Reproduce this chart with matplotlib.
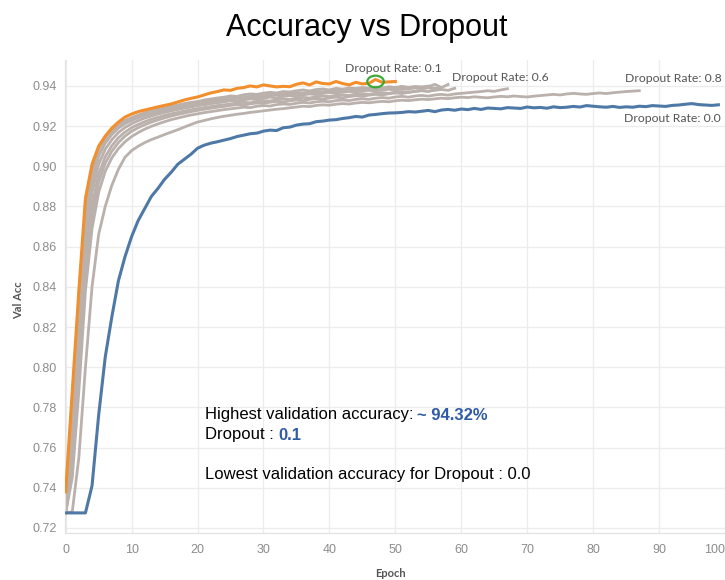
import matplotlib
matplotlib.use("Agg")
import matplotlib.pyplot as plt
from matplotlib.patches import Ellipse
import numpy as np

# ---------------- data ----------------
title = "Accuracy vs Dropout"
x_label = "Epoch"
y_label = "Val Acc"
x_ticks = [0, 10, 20, 30, 40, 50, 60, 70, 80, 90, 100]
y_ticks = [0.72, 0.74, 0.76, 0.78, 0.80, 0.82, 0.84, 0.86, 0.88, 0.90, 0.92, 0.94]

acc_d00 = [0.7275, 0.7275, 0.7275, 0.7275, 0.741, 0.776, 0.805, 0.825, 0.843, 0.855,
           0.865, 0.873, 0.879, 0.885, 0.889, 0.8935, 0.897, 0.901, 0.9035, 0.906,
           0.909, 0.9105, 0.9115, 0.9122, 0.913, 0.9138, 0.9148, 0.9155, 0.9162, 0.9165,
           0.9175, 0.918, 0.9178, 0.9192, 0.9195, 0.9205, 0.921, 0.9212, 0.9222, 0.9225,
           0.923, 0.9232, 0.9238, 0.9242, 0.9248, 0.9245, 0.9255, 0.9258, 0.9262, 0.9265,
           0.9266, 0.9268, 0.9272, 0.927, 0.9274, 0.9278, 0.9272, 0.928, 0.9283, 0.9279,
           0.9285, 0.9282, 0.9288, 0.9283, 0.929, 0.9288, 0.9286, 0.9292, 0.929, 0.9288,
           0.9295, 0.9291, 0.9293, 0.9289, 0.9296, 0.9292, 0.9294, 0.9298, 0.9295, 0.9302,
           0.9299, 0.9296, 0.9294, 0.9298, 0.9293, 0.9296, 0.9294, 0.9299, 0.9297, 0.9302,
           0.93, 0.9298, 0.9303, 0.9305, 0.9309, 0.9312, 0.9307, 0.9305, 0.9303, 0.9306]

acc_d01 = [0.738, 0.788, 0.838, 0.884, 0.901, 0.910, 0.915, 0.919, 0.922, 0.9245,
           0.926, 0.9272, 0.928, 0.9288, 0.9296, 0.9303, 0.931, 0.932, 0.933, 0.9338,
           0.9345, 0.9355, 0.9365, 0.9372, 0.938, 0.9378, 0.9388, 0.9392, 0.94, 0.9395,
           0.9405, 0.94, 0.9395, 0.9398, 0.9396, 0.9408, 0.9415, 0.9405, 0.942, 0.9412,
           0.941, 0.9422, 0.9412, 0.9405, 0.9418, 0.941, 0.9413, 0.9432, 0.9418, 0.942,
           0.9422]

acc_d02 = [0.7275, 0.772, 0.835, 0.878, 0.898, 0.909, 0.9145, 0.918, 0.9208, 0.9228,
           0.9242, 0.9255, 0.9266, 0.9275, 0.9284, 0.929, 0.9298, 0.9305, 0.9312, 0.9318,
           0.9322, 0.933, 0.9335, 0.934, 0.9344, 0.935, 0.9348, 0.9356, 0.936, 0.9358,
           0.9364, 0.9368, 0.9365, 0.9372, 0.937, 0.9376, 0.938, 0.9375, 0.9382, 0.9385,
           0.938, 0.9388, 0.9384, 0.939, 0.9387, 0.9392, 0.9389, 0.9394, 0.939, 0.9396,
           0.9392, 0.9398, 0.9393, 0.9397, 0.9395, 0.9399]

acc_d03 = [0.7275, 0.765, 0.822, 0.868, 0.892, 0.905, 0.9115, 0.9158, 0.919, 0.9212,
           0.9228, 0.9242, 0.9253, 0.9262, 0.9271, 0.9279, 0.9286, 0.9292, 0.9298, 0.9304,
           0.931, 0.9315, 0.9318, 0.9324, 0.933, 0.9333, 0.9338, 0.9336, 0.9343, 0.9347,
           0.9345, 0.9352, 0.9356, 0.9354, 0.936, 0.9358, 0.9364, 0.9368, 0.9365, 0.937,
           0.9373, 0.9369, 0.9376, 0.9374, 0.9379, 0.9382, 0.9378, 0.9384, 0.9381, 0.9386,
           0.9383, 0.9388, 0.9385, 0.939, 0.9387, 0.9392, 0.9388, 0.9391]

acc_d04 = [0.7275, 0.76, 0.812, 0.86, 0.887, 0.901, 0.9085, 0.9132, 0.9168, 0.9193,
           0.9212, 0.9227, 0.924, 0.925, 0.926, 0.9268, 0.9276, 0.9283, 0.929, 0.9295,
           0.9302, 0.9306, 0.9312, 0.9316, 0.9321, 0.9326, 0.9324, 0.9331, 0.9335, 0.9333,
           0.934, 0.9344, 0.9341, 0.9348, 0.9352, 0.9349, 0.9356, 0.936, 0.9357, 0.9363,
           0.9367, 0.9364, 0.937, 0.9373, 0.9369, 0.9376, 0.9379, 0.9375, 0.9381, 0.9384,
           0.938, 0.9386, 0.9384]

acc_d05 = [0.7275, 0.755, 0.802, 0.851, 0.88, 0.896, 0.9048, 0.9102, 0.9142, 0.917,
           0.9192, 0.9208, 0.9222, 0.9234, 0.9244, 0.9253, 0.9261, 0.9268, 0.9275, 0.9281,
           0.9287, 0.9292, 0.9297, 0.9302, 0.9306, 0.931, 0.9314, 0.9318, 0.9316, 0.9323,
           0.9327, 0.9325, 0.9331, 0.9335, 0.9333, 0.9339, 0.9343, 0.934, 0.9346, 0.935,
           0.9347, 0.9353, 0.9356, 0.9353, 0.9359, 0.9362, 0.9358, 0.9364, 0.9367, 0.9363,
           0.9369, 0.9372, 0.9368, 0.9374, 0.9377, 0.9373, 0.9379, 0.9382, 0.9378, 0.9388]

acc_d06 = [0.7275, 0.768, 0.828, 0.872, 0.894, 0.906, 0.9125, 0.9165, 0.9196, 0.9218,
           0.9234, 0.9247, 0.9258, 0.9268, 0.9277, 0.9285, 0.9292, 0.9299, 0.9305, 0.9311,
           0.9316, 0.9322, 0.9327, 0.9331, 0.9336, 0.934, 0.9344, 0.9342, 0.9349, 0.9353,
           0.9351, 0.9357, 0.9361, 0.9358, 0.9364, 0.9367, 0.9364, 0.937, 0.9373, 0.937,
           0.9376, 0.9379, 0.9375, 0.9381, 0.9384, 0.938, 0.9386, 0.9389, 0.9385, 0.9391,
           0.9388, 0.9393, 0.939, 0.9395, 0.9391, 0.9396, 0.9408, 0.9392, 0.9407]

acc_d07 = [0.7275, 0.75, 0.795, 0.845, 0.875, 0.892, 0.9015, 0.9075, 0.9118, 0.915,
           0.9174, 0.9192, 0.9207, 0.922, 0.9231, 0.9241, 0.925, 0.9258, 0.9265, 0.9272,
           0.9278, 0.9284, 0.9289, 0.9294, 0.9298, 0.9303, 0.9307, 0.9305, 0.9311, 0.9315,
           0.9313, 0.9319, 0.9323, 0.932, 0.9326, 0.933, 0.9327, 0.9333, 0.9337, 0.9334,
           0.934, 0.9344, 0.9341, 0.9347, 0.9351, 0.9348, 0.9354, 0.9358, 0.9355, 0.9361,
           0.9365, 0.9362, 0.9368, 0.9372, 0.9376, 0.9373, 0.938, 0.9384]

acc_d08 = [0.7275, 0.728, 0.755, 0.8, 0.84, 0.866, 0.88, 0.8905, 0.8985, 0.9045,
           0.9078, 0.91, 0.9118, 0.9133, 0.9145, 0.9158, 0.917, 0.9182, 0.9195, 0.9208,
           0.922, 0.9228, 0.9236, 0.9243, 0.9249, 0.9254, 0.9259, 0.9263, 0.9268, 0.9272,
           0.9276, 0.928, 0.9284, 0.9287, 0.9291, 0.9295, 0.9299, 0.9297, 0.9303, 0.9306,
           0.9304, 0.9309, 0.9312, 0.931, 0.9315, 0.9318, 0.9316, 0.932, 0.9323, 0.9321,
           0.9326, 0.9329, 0.9327, 0.9331, 0.9334, 0.9332, 0.9336, 0.9339, 0.9337, 0.9341,
           0.9344, 0.9342, 0.9346, 0.9343, 0.9341, 0.9345, 0.9348, 0.9346, 0.935, 0.9347,
           0.9345, 0.9349, 0.9352, 0.9355, 0.9358, 0.9355, 0.936, 0.9363, 0.936, 0.9358,
           0.9362, 0.9365, 0.9362, 0.9366, 0.9369, 0.9372, 0.9374, 0.9376]

acc_d09 = [0.7275, 0.745, 0.788, 0.838, 0.869, 0.887, 0.8975, 0.9042, 0.9088, 0.9122,
           0.9148, 0.9168, 0.9185, 0.9199, 0.9211, 0.9222, 0.9232, 0.924, 0.9248, 0.9255,
           0.9261, 0.9267, 0.9272, 0.9277, 0.9282, 0.9286, 0.929, 0.9294, 0.9292, 0.9299,
           0.9302, 0.93, 0.9307, 0.931, 0.9308, 0.9314, 0.9318, 0.9315, 0.9321, 0.9324,
           0.9321, 0.9327, 0.933, 0.9327, 0.9333, 0.9336, 0.9333, 0.9339, 0.9342, 0.9339,
           0.9345, 0.9348, 0.9344, 0.935, 0.9353, 0.9349, 0.9355, 0.9358, 0.9354, 0.936,
           0.9363, 0.9366, 0.9369, 0.9372, 0.9376, 0.9373, 0.938, 0.9386]

gray_series = [acc_d02, acc_d03, acc_d04, acc_d05, acc_d06, acc_d07, acc_d09, acc_d08]

label_d01 = "Dropout Rate: 0.1"
label_d06 = "Dropout Rate: 0.6"
label_d08 = "Dropout Rate: 0.8"
label_d00 = "Dropout Rate: 0.0"

note_1a = "Highest validation accuracy:"
note_1b = "~ 94.32%"
note_2a = "Dropout :"
note_2b = "0.1"
note_3 = "Lowest validation accuracy for Dropout : 0.0"

# ---------------- style ----------------
C_BLUE = "#4e79a7"
C_ORANGE = "#f28e2b"
C_GRAY = "#bab0ac"
C_NOTE = "#2f5aa8"
C_TICK = "#8c8c8c"
C_LBL = "#555555"
SANS = ["Liberation Sans", "DejaVu Sans"]
LAB = ["Lato", "DejaVu Sans"]

fig = plt.figure(figsize=(7.25, 5.8), dpi=100)
ax = fig.add_axes([65 / 725, 1 - 533 / 580, 660 / 725, 473 / 580])
ax.set_xlim(-0.1, 100.0)
ax.set_ylim(0.7175, 0.9529)

for s in gray_series:
    ax.plot(np.arange(len(s)), s, color=C_GRAY, lw=2.0, solid_joinstyle="round", zorder=2)
ax.plot(np.arange(len(acc_d00)), acc_d00, color=C_BLUE, lw=2.2, solid_joinstyle="round", zorder=3)
ax.plot(np.arange(len(acc_d01)), acc_d01, color=C_ORANGE, lw=2.2, solid_joinstyle="round", zorder=4)

# highlight best point
best = int(np.argmax(acc_d01))
ax.add_patch(Ellipse((best, acc_d01[best] - 0.001), width=2.5, height=0.0058, fill=False,
                     edgecolor="#3aaa35", lw=1.6, zorder=5))

# line end labels
def end_label(series, text, dx, dy, ha):
    n = len(series) - 1
    ax.annotate(text, xy=(n, series[n]), xytext=(dx, dy), textcoords="offset points",
                ha=ha, va="center", fontsize=8.8, color=C_LBL, family=LAB, zorder=6)

end_label(acc_d01, label_d01, -1.2, 9.7, "center")
end_label(acc_d06, label_d06, 2.5, 5.0, "left")
end_label(acc_d08, label_d08, 24.2, 8.9, "center")
end_label(acc_d00, label_d00, -32.8, -10.1, "center")

# axes styling
ax.set_xticks(x_ticks)
ax.set_yticks(y_ticks)
ax.set_yticklabels([f"{v:.2f}" for v in y_ticks])
ax.tick_params(axis="both", length=0, colors=C_TICK, labelsize=9)
ax.tick_params(axis="y", pad=6)
ax.tick_params(axis="x", pad=8)
for lbl in ax.get_xticklabels() + ax.get_yticklabels():
    lbl.set_family(SANS)
xl = ax.get_xticklabels()
xl[-1].set_horizontalalignment("right")
ax.grid(True, color="#ececec", lw=0.9)
ax.set_axisbelow(True)
for side in ["top", "right"]:
    ax.spines[side].set_visible(False)
for side in ["left", "bottom"]:
    ax.spines[side].set_color("#e2e2e2")
    ax.spines[side].set_linewidth(0.9)

fig.text(0.538, 0.012, x_label, ha="center", va="center", fontsize=8,
         fontweight="bold", color=C_LBL, family=LAB)
fig.text(0.025, 0.483, y_label, ha="center", va="center", rotation=90, fontsize=8,
         fontweight="bold", color=C_LBL, family=LAB)

fig.text(0.506, 0.952, title, ha="center", va="center", fontsize=22,
         color="black", family=SANS)

# notes
t1 = fig.text(205 / 725, 1 - 415 / 580, note_1a, ha="left", va="center",
              fontsize=12, color="black", family=SANS)
ax.annotate(note_1b, xy=(1, 0.5), xycoords=t1, xytext=(2.5, 0), textcoords="offset points",
            ha="left", va="center", fontsize=12, fontweight="bold", color=C_NOTE, family=SANS)
t2 = fig.text(205 / 725, 1 - 435 / 580, note_2a, ha="left", va="center",
              fontsize=12, color="black", family=SANS)
ax.annotate(note_2b, xy=(1, 0.5), xycoords=t2, xytext=(3, 0), textcoords="offset points",
            ha="left", va="center", fontsize=12, fontweight="bold", color=C_NOTE, family=SANS)
fig.text(205 / 725, 1 - 475 / 580, note_3, ha="left", va="center",
         fontsize=12, color="black", family=SANS)

fig.savefig("out.png", dpi=100, facecolor="white")
